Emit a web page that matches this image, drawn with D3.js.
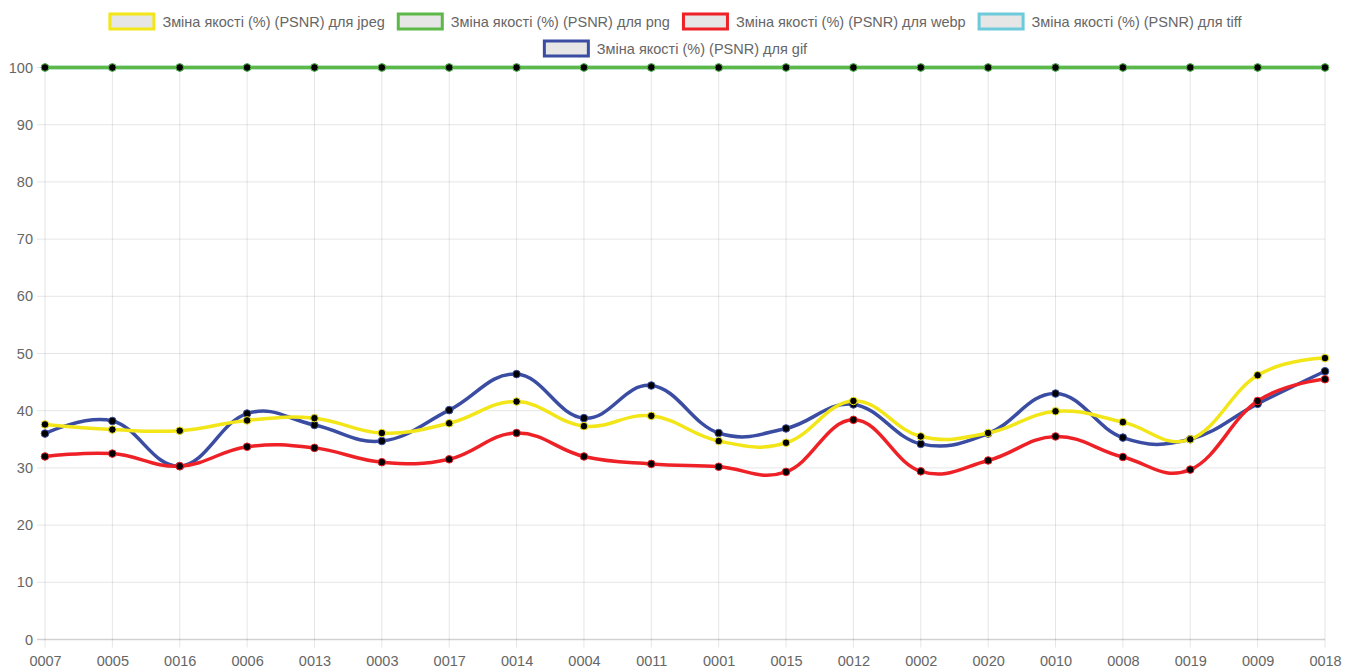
<!DOCTYPE html>
<html><head><meta charset="utf-8">
<script src="https://cdn.jsdelivr.net/npm/d3@7"></script>
<style>
body{margin:0;background:#fff}
svg{display:block}
text{font-family:"Liberation Sans",Arial,Helvetica,sans-serif}
</style></head>
<body>
<svg id="chart" width="1355" height="668"></svg>
<script>
const categories = ["0007","0005","0016","0006","0013","0003","0017","0014","0004","0011","0001","0015","0012","0002","0020","0010","0008","0019","0009","0018"];
const jpeg = [37.6,36.7,36.5,38.3,38.7,36.1,37.8,41.6,37.3,39.1,34.7,34.4,41.7,35.5,36.1,39.9,38.0,35.0,46.2,49.2];
const png  = [100,100,100,100,100,100,100,100,100,100,100,100,100,100,100,100,100,100,100,100];
const webp = [32.0,32.5,30.3,33.7,33.5,31.0,31.5,36.1,32.0,30.7,30.2,29.3,38.4,29.4,31.3,35.5,31.9,29.7,41.7,45.5];
const tiff = [100,100,100,100,100,100,100,100,100,100,100,100,100,100,100,100,100,100,100,100];
const gif  = [36.0,38.2,30.3,39.5,37.5,34.7,40.1,46.4,38.7,44.4,36.1,36.9,41.1,34.2,36.0,43.0,35.3,35.0,41.2,46.9];
const yTicks = [0,10,20,30,40,50,60,70,80,90,100];
const seriesLabels = [
  "Зміна якості (%) (PSNR) для jpeg",
  "Зміна якості (%) (PSNR) для png",
  "Зміна якості (%) (PSNR) для webp",
  "Зміна якості (%) (PSNR) для tiff",
  "Зміна якості (%) (PSNR) для gif"
];
const seriesColors = ["#f2e619","#5db947","#ee2127","#6ccadb","#3a4da2"];
const seriesValues = [jpeg, png, webp, tiff, gif];

const W = 1355, H = 668;
const svg = d3.select("#chart");
const m = {left:45, right:30, top:67.5, bottom:28.5};
const x = d3.scalePoint().domain(categories).range([m.left, W - m.right]);
const y = d3.scaleLinear().domain([0,100]).range([H - m.bottom, m.top]);

// grid
const grid = svg.append("g");
grid.selectAll("line.v").data(categories).enter().append("line")
  .attr("x1", d => x(d)).attr("x2", d => x(d))
  .attr("y1", m.top).attr("y2", H - m.bottom + 8)
  .attr("stroke", "rgba(0,0,0,0.1)").attr("stroke-width", 1);
grid.selectAll("line.h").data(yTicks).enter().append("line")
  .attr("x1", m.left - 8).attr("x2", W - m.right)
  .attr("y1", d => y(d)).attr("y2", d => y(d))
  .attr("stroke", d => d === 0 ? "rgba(0,0,0,0.18)" : "rgba(0,0,0,0.1)")
  .attr("stroke-width", d => d === 0 ? 1.5 : 1);

// axes labels
const yAxis = d3.axisLeft(y).tickValues(yTicks).tickSize(0).tickPadding(12);
const ga = svg.append("g").attr("transform", `translate(${m.left},0)`).call(yAxis);
ga.select(".domain").remove();
ga.selectAll("text").attr("fill", "#666").style("font-size", "14.5px");

const xAxis = d3.axisBottom(x).tickSize(0).tickPadding(16);
const gx = svg.append("g").attr("transform", `translate(0,${H - m.bottom})`).call(xAxis);
gx.select(".domain").remove();
gx.selectAll("text").attr("fill", "#666").style("font-size", "14.5px");

// lines (draw last dataset first, like Chart.js)
const line = d3.line().x((d,i) => x(categories[i])).y(d => y(d)).curve(d3.curveCardinal.tension(-0.2));
const order = [4,3,2,1,0];
order.forEach(si => {
  const g = svg.append("g");
  g.append("path").datum(seriesValues[si])
    .attr("d", line).attr("fill", "none")
    .attr("stroke", seriesColors[si]).attr("stroke-width", 3.5)
    .attr("stroke-linejoin", "round");
  g.selectAll("circle").data(seriesValues[si]).enter().append("circle")
    .attr("cx", (d,i) => x(categories[i])).attr("cy", d => y(d))
    .attr("r", 3.8).attr("fill", "#000")
    .attr("stroke", seriesColors[si]).attr("stroke-width", 1);
});

// legend
const legend = svg.append("g");
const boxW = 47, boxH = 15, gapText = 7, itemGap = 12, fs = "14.5px";
const items = seriesLabels.map((t,i) => {
  const tmp = legend.append("text").style("font-size",fs).text(t);
  const w = tmp.node().getComputedTextLength();
  tmp.remove();
  return {t, i, w: boxW + gapText + w};
});
const rows = [[]]; let rw = 0; const maxW = W - 100;
items.forEach(it => {
  const add = (rows[rows.length-1].length ? itemGap : 0) + it.w;
  if (rw + add > maxW) { rows.push([it]); rw = it.w; }
  else { rows[rows.length-1].push(it); rw += add; }
});
const rowY = [21.5, 48.5];
rows.forEach((row, ri) => {
  const total = d3.sum(row, d => d.w) + itemGap * (row.length - 1);
  let cx = 675 - total/2;
  row.forEach(it => {
    legend.append("rect").attr("x", cx + 1.5).attr("y", rowY[ri] - boxH/2)
      .attr("width", boxW - 3).attr("height", boxH)
      .attr("fill", "#e6e6e6").attr("stroke", seriesColors[it.i]).attr("stroke-width", 3);
    legend.append("text").attr("x", cx + boxW + gapText).attr("y", rowY[ri])
      .attr("dy", "0.35em").attr("fill", "#666").style("font-size", fs).text(it.t);
    cx += it.w + itemGap;
  });
});
</script>
</body></html>
